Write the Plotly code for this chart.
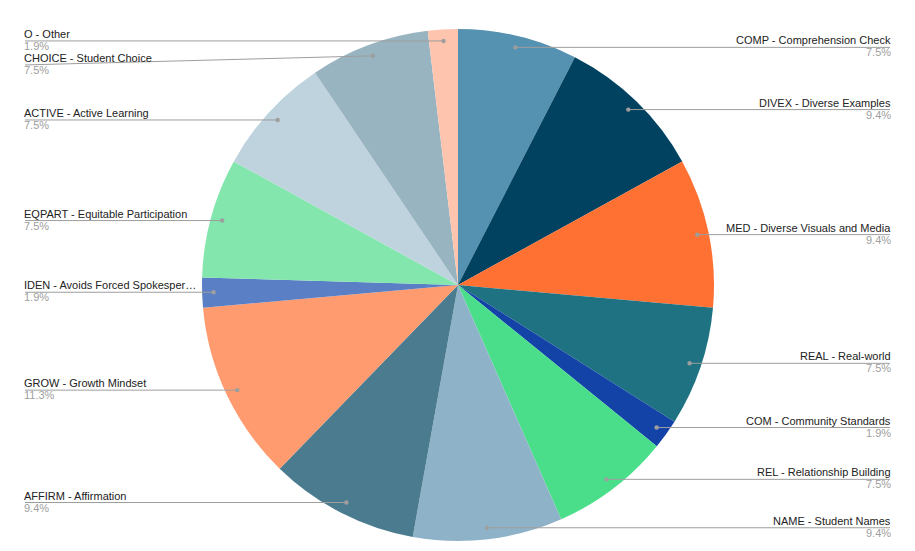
import math
import plotly.graph_objects as go

codes = ["COMP", "DIVEX", "MED", "REAL", "COM", "REL", "NAME", "AFFIRM",
         "GROW", "IDEN", "EQPART", "ACTIVE", "CHOICE", "O"]
names = ["COMP - Comprehension Check", "DIVEX - Diverse Examples",
         "MED - Diverse Visuals and Media", "REAL - Real-world",
         "COM - Community Standards", "REL - Relationship Building",
         "NAME - Student Names", "AFFIRM - Affirmation", "GROW - Growth Mindset",
         "IDEN - Avoids Forced Spokesper\u2026", "EQPART - Equitable Participation",
         "ACTIVE - Active Learning", "CHOICE - Student Choice", "O - Other"]
counts = [4, 5, 5, 4, 1, 4, 5, 5, 6, 1, 4, 4, 4, 1]
colors = ["#5591b0", "#00425f", "#ff7033", "#1f7282", "#1443a8", "#4ade8b",
          "#8eb3c8", "#4b7b8f", "#ff9b6e", "#5a7fc5", "#82e6ad", "#bed3de",
          "#98b4c1", "#ffc4ad"]

W, H = 915, 551
CX, CY, R = 458, 285, 256
DOT_R = 0.955 * R
LEFT_X, RIGHT_X = 25, 890
MIN_GAP = 24
LINE_COLOR = "#9e9e9e"

fig = go.Figure()
fig.add_trace(go.Pie(
    labels=names, values=counts, sort=False, direction="clockwise", rotation=0,
    marker=dict(colors=colors, line=dict(width=0)), textinfo="none",
    hoverinfo="label+percent", showlegend=False,
    domain=dict(x=[(CX - R) / W, (CX + R) / W],
                y=[(H - CY - R) / H, (H - CY + R) / H]),
))
# invisible trace to activate pixel-space cartesian axes
fig.add_trace(go.Scatter(x=[0, W], y=[0, H], mode="markers",
                         marker=dict(opacity=0), hoverinfo="skip",
                         showlegend=False))

total = sum(counts)
cum = 0
items = []
for i, c in enumerate(counts):
    mid = (cum + c / 2) / total * 2 * math.pi
    cum += c
    dx = CX + DOT_R * math.sin(mid)
    dy = CY - DOT_R * math.cos(mid)
    side = "right" if math.sin(mid) >= 0 else "left"
    items.append(dict(i=i, dx=dx, dy=dy, side=side, ly=dy))

for side in ("left", "right"):
    group = sorted([it for it in items if it["side"] == side], key=lambda t: t["dy"])
    prev = None
    for it in group:
        if prev is not None and it["ly"] < prev + MIN_GAP:
            it["ly"] = prev + MIN_GAP
        prev = it["ly"]

annotations = []
shapes = []
font_family = "Liberation Sans, Arial, sans-serif"
for it in items:
    i = it["i"]
    pct = f"{counts[i] / total * 100:.1f}%"
    if it["side"] == "right":
        lx, tx, anchor = RIGHT_X, RIGHT_X + 2, "right"
    else:
        lx, tx, anchor = LEFT_X, LEFT_X - 2, "left"
    shapes.append(dict(type="line", xref="x", yref="y", layer="above",
                       x0=it["dx"], y0=it["dy"], x1=lx, y1=it["ly"],
                       line=dict(color=LINE_COLOR, width=1)))
    shapes.append(dict(type="circle", xref="x", yref="y", layer="above",
                       x0=it["dx"] - 2.2, x1=it["dx"] + 2.2,
                       y0=it["dy"] - 2.2, y1=it["dy"] + 2.2,
                       fillcolor=LINE_COLOR, line=dict(width=0)))
    annotations.append(dict(x=tx, y=it["ly"] - 7, xref="x", yref="y",
                            text=names[i], showarrow=False, xanchor=anchor,
                            yanchor="middle", borderpad=0,
                            font=dict(family=font_family, size=11,
                                      color="#222222")))
    annotations.append(dict(x=tx, y=it["ly"] + 5, xref="x", yref="y",
                            text=pct, showarrow=False, xanchor=anchor,
                            yanchor="middle", borderpad=0,
                            font=dict(family=font_family, size=11,
                                      color="#9e9e9e")))

fig.update_layout(
    width=W, height=H, margin=dict(l=0, r=0, t=0, b=0),
    paper_bgcolor="white", plot_bgcolor="rgba(0,0,0,0)",
    xaxis=dict(range=[0, W], visible=False, fixedrange=True),
    yaxis=dict(range=[H, 0], visible=False, fixedrange=True),
    annotations=annotations, shapes=shapes,
)

fig.write_html("out.html", config={"displayModeBar": False},
               post_script="document.body.style.margin='0';"
                           "document.body.style.overflow='hidden';")
